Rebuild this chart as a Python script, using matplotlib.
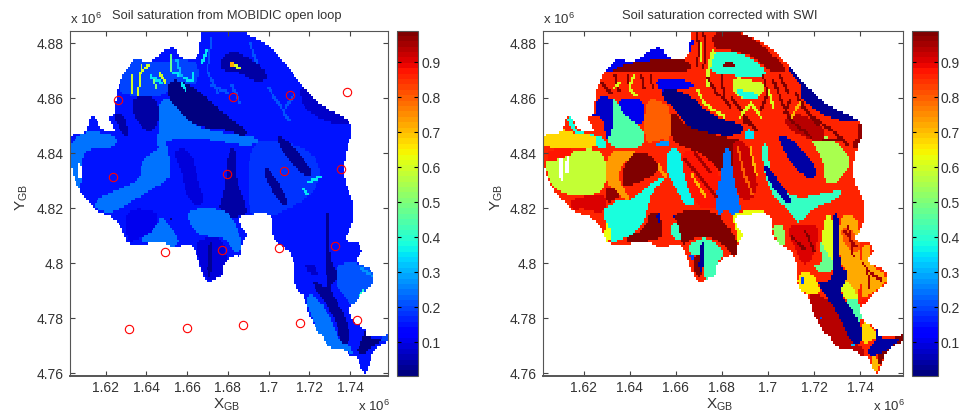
import numpy as np
import matplotlib
matplotlib.use('Agg')
import matplotlib.pyplot as plt
from matplotlib.colors import Normalize
from matplotlib.cm import ScalarMappable
from matplotlib.path import Path

plt.rcParams['font.family'] = ['Liberation Sans', 'DejaVu Sans']
plt.rcParams['mathtext.default'] = 'regular'
TXT = '#333333'

# all map coordinates, in km (1620 = 1.62 x 10^6)
basin = [(1602.1,4847.9),(1611,4847),(1612,4853.1),(1615.6,4853.1),(1617.2,4849.1),(1623,4847.3),(1624.6,4849.1),
         (1620.8,4853.1),(1624.6,4853.9),(1624.9,4859.4),(1625.7,4863),(1629,4870.1),(1635.2,4874.9),(1641,4872.7),
         (1649.2,4877.6),(1654.1,4878.8),(1656.6,4874.2),(1664.8,4873.9),(1666.4,4880),(1667.2,4885.5),(1685.2,4885.5),
         (1690.2,4883),(1699.2,4880),(1707.4,4873.3),(1715.6,4865.5),(1722.1,4860),(1729.5,4855.8),(1738.5,4852.7),
         (1741,4850.3),(1741,4847.3),(1738.5,4842.4),(1736.9,4835.2),(1737.7,4829.1),(1742.1,4820.6),(1741,4813.9),
         (1736.9,4807.9),(1745,4807.7),(1745.9,4803.7),(1741.8,4800.6),(1750,4798.2),(1752,4795.8),(1751.3,4792.2),
         (1745.9,4789.1),(1743.4,4786.1),(1739.3,4783.7),(1741,4778.8),(1747.5,4776.4),(1748.4,4772.8),(1756.6,4773.4),
         (1759,4774.2),(1759,4771.5),(1751.6,4769.1),(1749.2,4761.8),(1746.4,4759.6),(1743.4,4766.7),(1740.2,4765.7),
         (1736.9,4769.1),(1729.5,4769.1),(1727,4772.8),(1723,4776.4),(1719.7,4781.8),(1718,4787.3),(1712.3,4792.2),
         (1713.1,4800),(1709,4805.5),(1703.3,4807.3),(1701.6,4812.8),(1702.5,4816.4),(1697.5,4818.8),(1691,4817.6),
         (1685.2,4817),(1686.9,4813.3),(1689.7,4810.9),(1686.9,4806.7),(1686,4802.4),(1683.6,4803),(1677.9,4800.6),
         (1677.5,4795.8),(1673.8,4794.5),(1669.7,4792.7),(1666.4,4798.2),(1664.8,4803),(1661.5,4807.3),(1653.3,4805.5),
         (1646.7,4808.2),(1638.5,4806.7),(1630.3,4807),(1628.7,4811.6),(1624.6,4816.4),(1615.6,4819.1),(1614.4,4820),
         (1606.6,4826.7),(1602,4837.6)]

left_holes = [[(1606,4837),(1608.7,4835),(1608.7,4830.3),(1606.6,4831)]]
right_holes = [[(1609,4838),(1611,4838),(1611,4830),(1609,4831)],[(1612,4837),(1614,4840),(1614,4833),(1612,4832)]]

stations_x = [1626.2,1682.3,1710.5,1738.4,1623.8,1679.8,1707.5,1735.6,1649.2,1676.9,1704.9,1732.8,1631.3,1659.7,1687.2,1715.4,1743.3]
stations_y = [4859.4,4860.4,4861.1,4862.2,4831.4,4832.5,4833.6,4834.3,4804.2,4804.9,4805.6,4806.4,4776.2,4776.5,4777.4,4778.1,4779.2]

# open loop: saturation value of each soil zone
left_base = 0.155
left_values = [0.25,0.25,0.19,0.18,0.05,0.05,0.015,0.05,0.07,0.05,0.09,0.03,0.03,
               0.25,0.02,0.25,0.09,0.03,0.25,0.11,0.03,0.07,0.25,0.21,0.02,0.19,0.72]
left_zones = [
    [(1602,4848),(1625.5,4847.5),(1625.5,4842),(1612,4842),(1608,4838),(1608,4826),(1602,4826)],
    [(1646,4860),(1653.3,4859.4),(1663,4850.3),(1673,4848),(1690,4846.7),(1696,4844.8),(1691,4842.4),(1673,4844.8),(1660,4846),(1650,4844.8),(1645,4841.2),(1646,4850)],
    [(1625.7,4863),(1632,4860.6),(1650,4860.6),(1651.6,4867.3),(1665,4864),(1666,4873),(1656.6,4874.2),(1641,4872.7),(1635,4875),(1629,4870)],
    [(1690,4842),(1700,4846),(1725,4840),(1725,4826),(1700,4816),(1690,4816)],
    [(1632.8,4860.6),(1646,4860.6),(1646,4849),(1638.5,4848),(1633.6,4854.5)],
    [(1623,4854),(1629.5,4854),(1631,4846),(1628.7,4846.7)],
    [(1651.6,4867.3),(1660,4865.5),(1666.4,4862.4),(1674.6,4856.4),(1682.8,4851.9),(1690,4848),(1687.7,4846),(1681,4848.5),(1669.7,4849),(1662.3,4851),(1655.7,4855.8),(1650,4860.6)],
    [(1675.4,4872.7),(1681,4877.6),(1687.7,4875.8),(1697.5,4871),(1700,4867.3),(1694.3,4865.5),(1684.4,4870.3),(1677.9,4869.7)],
    [(1715.6,4865.5),(1722,4860),(1729.5,4855.8),(1738.5,4852.7),(1741,4850.3),(1730,4851),(1722,4854),(1716,4858)],
    [(1681.6,4842.2),(1684,4840.6),(1684,4830.3),(1688.5,4821.8),(1690,4817),(1674.6,4817),(1678.7,4827.9),(1679.5,4837.6)],
    [(1652.5,4841.2),(1661.5,4841.8),(1664.8,4831.5),(1668.4,4823),(1664.8,4820),(1659.8,4824.2),(1656.6,4835.2)],
    [(1697.5,4835.2),(1700.8,4834),(1709.8,4823),(1709,4820.6),(1705.7,4821.8),(1699.2,4829.7)],
    [(1704,4846.7),(1709,4844.8),(1716.4,4838.8),(1722,4833.3),(1718.9,4830.9),(1713,4835.2),(1705.7,4841.2)],
    [(1650,4844.8),(1645,4841.2),(1637.7,4837.6),(1637,4830.3),(1625.4,4826.7),(1614.8,4823),(1614.4,4820),(1622,4818.2),(1628.7,4820.6),(1645,4828),(1652.5,4831.5),(1651,4838.8)],
    [(1651.3,4818.2),(1653.3,4814.5),(1651.6,4815.7)],
    [(1646.7,4818.2),(1651.6,4813.9),(1656.6,4807.9),(1653.3,4805.5),(1646.7,4808.2),(1638.5,4806.7),(1636.9,4809.2),(1645,4812.8)],
    [(1664.8,4809),(1677.9,4809.6),(1679.5,4800.6),(1677.5,4795.8),(1669.7,4792.7),(1664.8,4803)],
    [(1670.5,4807.6),(1673,4807.6),(1671.6,4794.8),(1669.7,4794.8)],
    [(1659.8,4820),(1681,4820),(1687.7,4806.7),(1684.4,4802.4),(1679.5,4809.2),(1666.4,4810.1),(1661.5,4813.9)],
    [(1629,4820),(1646,4819.5),(1645,4812.8),(1636.9,4809),(1630.3,4807)],
    [(1727.9,4818.8),(1730,4818.8),(1729.5,4805.5),(1732,4798.2),(1734.5,4797),(1732.8,4793.3),(1729.5,4790.9),(1738.5,4780),(1740.2,4770.3),(1735.2,4770.3),(1733.6,4778.8),(1725.4,4788.5),(1721.3,4792.7),(1723.8,4793.3),(1729.5,4789.7),(1727.9,4799.4)],
    [(1718,4800),(1723,4799.4),(1724.6,4795.2),(1719.7,4796.4)],
    [(1718,4787.3),(1721.3,4789.1),(1729.5,4782.4),(1735.2,4770.3),(1740.2,4770.3),(1741.8,4766),(1737,4769),(1729.5,4769),(1723,4776.4)],
    [(1733,4792.2),(1733,4799.5),(1741.8,4800.6),(1750.8,4798.2),(1752,4792.2),(1741.8,4783.7),(1737.7,4787.3)],
    [(1747.5,4776.4),(1748.4,4772.8),(1756.6,4772.8),(1750,4769.1),(1746,4766.7),(1742.6,4767.9),(1746,4771.5)],
    [(1756.6,4773.4),(1759,4774.2),(1759,4771.5),(1753.3,4771)],
    [(1680.3,4872.7),(1682.8,4874.2),(1683.8,4871.9),(1681.1,4871.8)],
]
left_stream_values = [0.6,0.6,0.6,0.5,0.6,0.48,0.35,0.35,0.35,0.35,0.6,0.35,0.35,0.28,0.4,0.22,
                      0.22,0.22,0.21,0.21,0.3,0.35,0.22]
left_streams = [
    [(1632.8,4868.5),(1633.3,4861.8)],
    [(1637.7,4871.5),(1636.6,4866.7),(1635.7,4861.2)],
    [(1637.7,4869.7),(1641,4872.1)],
    [(1643.4,4867.3),(1645,4863.6)],
    [(1646.7,4869),(1649.5,4865.8)],
    [(1651.6,4875.8),(1651.6,4870.3)],
    [(1657.4,4865.5),(1659.5,4862.8)],
    [(1663,4869.7),(1662.3,4866.7)],
    [(1669.7,4877.6),(1667.2,4872.7)],
    [(1653.3,4869.7),(1660.6,4866.7)],
    [(1683.6,4872.1),(1685.7,4870.7)],
    [(1716.4,4827.3),(1719.7,4824.8)],
    [(1719.7,4829.7),(1725.4,4831.5)],
    [(1745.9,4798),(1750.8,4795.8)],
    [(1746.7,4789.7),(1745,4788.5)],
    [(1691,4880),(1694.3,4872.7)],
    [(1672,4882),(1670,4870),(1675,4862)],
    [(1682,4865),(1686,4858)],
    [(1700,4864),(1705,4858),(1710,4852)],
    [(1712,4861),(1708,4856)],
    [(1655,4874),(1657,4868)],
    [(1642,4868),(1647,4866)],
    [(1672,4865),(1680,4862)],
]

# corrected with SWI
right_base = 0.86
right_values = [0.1,0.98,0.1,0.97,0.4,0.98,0.6,0.6,0.38,0.03,0.98,0.01,0.35,0.8,0.28,
                0.45,0.08,0.1,0.38,0.68,0.88,0.58,0.73,0.98,0.9,0.96,0.38,0.37,0.88,0.98,0.25,0.92,0.42,
                0.04,0.05,0.55,0.93,0.97,0.98,0.86,0.05,0.05,0.42,0.86,0.63,0.43,0.98,0.03,0.2,0.63,
                0.52,0.9,0.62,0.47,0.72,0.82,0.62,0.45,0.72,0.88,0.66,0.2,0.93,0.2,0.68,0.7,0.98,0.05,0.3]
right_zones = [
    [(1629,4869),(1625,4872),(1635,4880),(1655,4882),(1668,4885),(1666.5,4874),(1652,4873.3)],
    [(1629.7,4869.3),(1637.6,4872.5),(1652,4874.2),(1666.5,4874.2),(1666.5,4869.3),(1652,4869.3)],
    [(1650.6,4867.3),(1666.5,4866.7),(1667.9,4863.6),(1657.8,4863.6),(1653.5,4862.4)],
    [(1675.8,4883.6),(1683.8,4885.5),(1695.3,4881),(1702.5,4875.5),(1709,4869.7),(1701.1,4869.3),(1693.9,4875.2),(1683.8,4877.6),(1676.6,4877.6)],
    [(1675,4876.4),(1680.9,4877.6),(1692.4,4875.2),(1700.4,4869.3),(1695.3,4867.6),(1683.8,4868.5),(1674.4,4869.7)],
    [(1680.2,4872.7),(1683.8,4874.2),(1686.7,4870.9),(1680.9,4871.5)],
    [(1674.4,4870.3),(1678,4877.6),(1675.1,4877.6),(1672.2,4864.2),(1675.1,4864)],
    [(1684.5,4868.1),(1685.2,4860.6),(1695.3,4859.4),(1699.7,4865.5),(1692.4,4866.7)],
    [(1686,4863.6),(1695.3,4861.8),(1695.3,4859.4),(1687.4,4860.6)],
    [(1709,4872),(1712,4876),(1722,4866),(1733,4860),(1745,4854),(1736.4,4851.2),(1727,4852.7),(1720.6,4855.8),(1714,4860),(1715.5,4864.2),(1709.8,4869)],
    [(1657.8,4857),(1663.6,4850.3),(1680.9,4845.8),(1691,4844.8),(1685.2,4832.7),(1679.5,4832.7),(1673.7,4838.8),(1663.6,4842.4),(1657.8,4844.2)],
    [(1653.5,4863),(1658.5,4863.6),(1666.5,4861.2),(1672.2,4855.8),(1680.9,4852.1),(1690.3,4850.3),(1688.8,4847.3),(1680.9,4846.3),(1672.2,4847.9),(1665,4849.7),(1660.7,4855.2),(1654.9,4859.4)],
    [(1690.3,4849),(1693.9,4847.9),(1693.2,4844.8),(1689.6,4845.5)],
    [(1646.3,4859.4),(1653.5,4859.4),(1657.8,4855.8),(1657.8,4844.2),(1653.5,4845.5),(1646.3,4842.4)],
    [(1650.6,4843.6),(1657,4844.8),(1657.8,4843),(1653.5,4842.4)],
    [(1631.8,4859.4),(1634,4859.4),(1637.6,4853.9),(1646.3,4849),(1646.3,4841.8),(1630,4841.8),(1631.8,4849.7)],
    [(1625.3,4860.6),(1632.6,4860.4),(1633.3,4854.5),(1631.5,4845.5),(1629.7,4845.5),(1629,4853.3),(1621.7,4853.3),(1626,4854.5)],
    [(1634,4860),(1646.3,4860),(1646.3,4849),(1637.6,4853.9)],
    [(1612.4,4853.3),(1615.2,4853.3),(1616.7,4847.9),(1630,4846),(1630,4841.5),(1625.8,4841.5),(1625.8,4846),(1616,4847)],
    [(1602,4849),(1610.2,4849.1),(1614.5,4847.5),(1625.8,4846.7),(1625.8,4841.5),(1602,4841.5)],
    [(1604.4,4841.5),(1617.4,4841.5),(1613,4838.8),(1608,4836.4),(1604.4,4837.6)],
    [(1603,4837.6),(1608.7,4837.6),(1613,4838.8),(1617.4,4841.5),(1630,4841.2),(1630,4825.5),(1615.2,4824),(1605.9,4828)],
    [(1630,4841.2),(1641.2,4841.2),(1652,4837.6),(1656.4,4831.5),(1655,4830.9),(1649.9,4837.6),(1640.5,4839),(1635.4,4834),(1635.4,4830.3),(1640.5,4823),(1638.6,4822.4),(1634,4826.7),(1630,4828)],
    [(1643.4,4840.6),(1650.6,4838.8),(1653.8,4834),(1644.8,4829.7),(1637.6,4827.3),(1636.2,4831.5),(1639,4837.6)],
    [(1614.5,4823.6),(1629.7,4825.5),(1629.7,4820),(1627.5,4818),(1621,4820),(1614.5,4819.4)],
    [(1629.7,4828.5),(1635.4,4826),(1635.4,4824.2),(1629.7,4821.6)],
    [(1629.7,4820),(1635.4,4823.6),(1639.8,4822.4),(1642,4824.2),(1653.5,4831.5),(1655.6,4830.9),(1649.1,4825.5),(1647.7,4818.8),(1644.1,4812),(1636.9,4808.5),(1631.1,4807.3),(1629.7,4813.9),(1629,4820)],
    [(1657.1,4841.8),(1662.1,4841.8),(1663.6,4831.5),(1668.6,4821.8),(1665,4820),(1659.3,4827.9),(1655,4835.2)],
    [(1662,4842),(1673.7,4838.8),(1679.5,4832.7),(1680,4820),(1668.6,4820),(1663.6,4831.5)],
    [(1660,4819.4),(1679.5,4819.4),(1688.1,4805.5),(1685.2,4802),(1679.5,4807.9),(1671.5,4810.1),(1665,4808.2),(1663.3,4805.5),(1660,4814)],
    [(1680.9,4841.8),(1683.8,4841.8),(1684.5,4832.7),(1688.1,4821.8),(1688,4818),(1680,4816.5),(1676.6,4820.6),(1679.5,4831.5)],
    [(1684.5,4844.8),(1691,4844.8),(1696.8,4825.5),(1688.1,4821.8),(1684.5,4832.7)],
    [(1696.8,4843.6),(1700.4,4843.6),(1700.4,4835.2),(1705.4,4827.9),(1712.6,4823),(1732.8,4827.3),(1730,4823),(1718.4,4820),(1713.4,4813.9),(1710.5,4817.7),(1699.7,4826.7)],
    [(1704.7,4846.7),(1707.6,4846.7),(1715.5,4841.2),(1722,4832.7),(1718.4,4830.3),(1712.6,4833.9),(1705.4,4842.4)],
    [(1697.5,4835.2),(1699.7,4835.8),(1710.5,4823),(1709,4821.2),(1704.7,4824.2)],
    [(1717,4850.3),(1724.2,4847.3),(1735,4840),(1735.7,4835.2),(1728.5,4827.9),(1724.2,4830.3),(1724.2,4837.6),(1718.4,4844.8)],
    [(1709.8,4855.8),(1725,4850),(1724,4843),(1706,4850)],
    [(1738.6,4850.9),(1741.5,4850.3),(1741.5,4844.8),(1738.6,4841.2),(1736.4,4842.4),(1739.3,4847.3)],
    [(1637.6,4809),(1647,4812.8),(1648.9,4819.4),(1653.5,4817.6),(1655,4809),(1647,4807.9),(1640.5,4806.7)],
    [(1653.5,4817.6),(1659.3,4814.5),(1659.3,4806),(1655,4805.7),(1655,4809)],
    [(1651.6,4818.2),(1653.5,4818.2),(1653.8,4815),(1652.5,4815.2)],
    [(1658.5,4817.6),(1660,4817.6),(1659.5,4815.8)],
    [(1658.5,4815.2),(1661.4,4814),(1662.4,4808),(1659.3,4808.5),(1657,4811.6)],
    [(1679.5,4819.4),(1683.8,4819.4),(1686.7,4810.9),(1679.5,4815)],
    [(1683.8,4818.2),(1698.2,4820),(1698.2,4816.4),(1689.6,4817),(1689.8,4812.1),(1687.4,4805.5),(1685.9,4813.3)],
    [(1665,4806),(1671.5,4809.7),(1678,4807.3),(1681.6,4803),(1678,4800.6),(1678,4793.9),(1672.2,4793.9),(1671.5,4801.7),(1666.5,4803.5)],
    [(1667.2,4802.3),(1670.8,4803),(1672.2,4799.9),(1670.8,4794.5),(1667.9,4796.3)],
    [(1670.8,4807.9),(1673,4807.9),(1671.5,4796.4),(1669.6,4797)],
    [(1665.7,4803),(1667.6,4803),(1667,4800.6)],
    [(1629.7,4815.2),(1631.5,4814),(1631.5,4807.3),(1629,4807.3)],
    [(1701.8,4814.5),(1706.9,4813.9),(1707.6,4805.5),(1703.3,4808)],
    [(1706.9,4813.9),(1722,4814.5),(1722,4809),(1718.4,4800.6),(1714.8,4799.4),(1711.9,4805.5)],
    [(1723.5,4814),(1727,4819.4),(1728.5,4809.2),(1728.5,4798.2),(1724.2,4797.1)],
    [(1721.3,4810.4),(1728.5,4800),(1728.5,4797.7),(1724.2,4795.8),(1718.4,4799.4),(1724.2,4799.2)],
    [(1730.7,4818.2),(1740,4817.6),(1740,4786.7),(1735,4789.7),(1731.4,4790.9),(1735,4797),(1730.7,4800.6)],
    [(1731.4,4814),(1740,4810.4),(1740,4803),(1732.8,4806.7)],
    [(1731.4,4792),(1735,4794),(1740,4786.7),(1732.8,4786.7)],
    [(1732.8,4786.7),(1740,4786.7),(1740.3,4777.6),(1736.4,4782.4)],
    [(1740,4806.7),(1745.1,4807.3),(1743.7,4800),(1751.6,4795.8),(1750.9,4792.2),(1744.4,4788.5),(1740,4786.7)],
    [(1740,4786.7),(1744,4786.7),(1741.5,4784.5),(1740,4784.5)],
    [(1712.6,4796.3),(1718.4,4796.9),(1722,4792.6),(1722.7,4789),(1717.7,4789),(1714,4789.3)],
    [(1713.8,4795.8),(1715.5,4795.2),(1715.1,4791.2)],
    [(1717.7,4789),(1722,4789),(1730,4783.7),(1736.4,4770.9),(1742.2,4769.1),(1741.5,4765.7),(1730,4769.1),(1722,4776.4),(1717.7,4786)],
    [(1722,4780),(1724.2,4780.4),(1723.5,4779)],
    [(1740.3,4780),(1747.3,4775),(1747.3,4773.3),(1743,4770.9),(1740.8,4770.9)],
    [(1744.4,4766.7),(1747.6,4766),(1748.7,4762.5),(1745.8,4759.6)],
    [(1754.5,4773.3),(1759,4774.2),(1759,4771.5),(1750.9,4767.3),(1748.7,4762.5),(1746.6,4766)],
    [(1746.6,4776.4),(1748,4776.4),(1749,4772.2),(1756.7,4773),(1756.7,4771.5),(1748.7,4767),(1744.4,4766),(1743,4769),(1747.3,4771.5)],
    [(1735,4771),(1737.7,4771),(1737.7,4769)],
]
# main river channel sits over the zones on the right
river_value = 0.03
river = [(1727.8,4818.8),(1730.7,4818.8),(1730.7,4799.4),(1735,4797),(1734.3,4794.2),(1730.7,4789),(1740,4779.4),(1740.8,4770.9),(1736.4,4770.3),(1731.4,4780),(1727,4786),(1722,4792),(1721.3,4793.5),(1725.6,4793),(1728.5,4796.3)]
right_stream_values = [0.98]*9 + [0.62]*3 + [0.98,0.62,0.98,0.62,0.98,0.98,0.62,0.98,0.98,0.62,0.98,0.98,0.98,0.7,0.95,0.95,0.95,0.95,0.98,0.98,0.95,0.95,0.7,0.8,0.7]
right_streams = [
    [(1633.3,4868.5),(1635.4,4863)],
    [(1639,4868.5),(1640.5,4863)],
    [(1644.8,4868.5),(1646.3,4863.6)],
    [(1673.7,4867.9),(1678,4861.8),(1683.8,4857)],
    [(1679.5,4868.5),(1680.9,4860.6)],
    [(1702.5,4866.7),(1705.4,4859.4),(1709.8,4852.1),(1718.4,4846)],
    [(1709.8,4859.4),(1706.9,4854.5)],
    [(1724.2,4844.8),(1732.8,4844.8)],
    [(1689.6,4852),(1695.3,4848.5)],
    [(1669.4,4863),(1672.2,4858.2),(1680.9,4853.3)],
    [(1699.7,4864.2),(1702.5,4857)],
    [(1692.4,4858.2),(1696.8,4853.3)],
    [(1628,4866),(1632,4862)],
    [(1642,4868),(1640,4864),(1643,4861)],
    [(1649,4868),(1650,4864)],
    [(1636,4866),(1633,4864)],
    [(1669,4884),(1670,4878),(1669,4872)],
    [(1672,4884),(1673,4878),(1672,4871)],
    [(1671,4880),(1671,4874)],
    [(1684,4860),(1688,4856),(1692,4851)],
    [(1698,4868),(1700,4862),(1697,4856)],
    [(1692,4858),(1688,4853)],
    [(1705,4868),(1709,4862)],
    [(1712,4862),(1716,4856),(1722,4850)],
    [(1720,4853),(1728,4848),(1735,4843)],
    [(1714,4858),(1710,4853)],
    [(1741,4800),(1745,4796),(1749,4794)],
    [(1743,4798),(1744,4791)],
    [(1733,4812),(1738,4806)],
    [(1735,4813),(1737,4803)],
    [(1710,4810),(1716,4805)],
    [(1716,4812),(1720,4804)],
    [(1664,4838),(1672,4830),(1678,4824)],
    [(1668,4840),(1675,4833)],
    [(1667,4832),(1673,4824)],
    [(1687,4842),(1690,4832),(1693,4825)],
    [(1692,4842),(1695,4832)],
]

x_ticks = [1.62,1.64,1.66,1.68,1.7,1.72,1.74]
y_ticks = [4.76,4.78,4.8,4.82,4.84,4.86,4.88]
cbar_ticks = [0.1,0.2,0.3,0.4,0.5,0.6,0.7,0.8,0.9]

W, H = 959, 416
CELL = 0.9
jet64 = plt.get_cmap('jet', 64)
norm = Normalize(0.005, 0.99)


def px_axes(fig, x0, x1, y0, y1):
    return fig.add_axes([x0 / W, 1 - y1 / H, (x1 - x0) / W, (y1 - y0) / H])


def chaikin(pts, n):
    # round off the hand-read zone corners
    p = np.array(pts, dtype=float)
    for _ in range(n):
        q = np.roll(p, -1, axis=0)
        p = np.column_stack([0.75 * p + 0.25 * q, 0.25 * p + 0.75 * q]).reshape(-1, 2)
    return p


def build_grid(base, zones, values, streams, stream_values, holes):
    xe = np.arange(1602, 1759.5, CELL)
    ye = np.arange(4759, 4885.5, CELL)
    xc, yc = np.meshgrid(xe[:-1] + CELL / 2, ye[:-1] + CELL / 2)
    pts = np.column_stack([xc.ravel(), yc.ravel()])
    grid = np.full(xc.shape, base)
    for zone, val in zip(zones, values):
        n = 1 if len(zone) <= 4 else 2
        grid[Path(chaikin(zone, n)).contains_points(pts).reshape(xc.shape)] = val
    for line, val in zip(streams, stream_values):
        line = np.array(line)
        for a, b in zip(line[:-1], line[1:]):
            for t in np.linspace(0, 1, 30):
                px, py = a + (b - a) * t
                grid[int((py - ye[0]) / CELL), int((px - xe[0]) / CELL)] = val
    outside = ~Path(chaikin(basin, 1)).contains_points(pts).reshape(xc.shape)
    grid[outside] = np.nan
    for h in holes:
        grid[Path(chaikin(h, 1)).contains_points(pts).reshape(xc.shape)] = np.nan
    return xe / 1000.0, ye / 1000.0, grid


def draw_map(ax, base, zones, values, streams, stream_values, holes):
    xe, ye, grid = build_grid(base, zones, values, streams, stream_values, holes)
    ax.pcolormesh(xe, ye, grid, cmap=jet64, norm=norm, antialiased=False, linewidth=0)
    ax.set_xlim(1.6022, 1.7584)
    ax.set_ylim(4.7591, 4.8847)
    ax.set_xticks(x_ticks)
    ax.set_yticks(y_ticks)
    ax.set_xticklabels(['%g' % t for t in x_ticks])
    ax.set_yticklabels(['%g' % t for t in y_ticks])
    ax.tick_params(direction='in', top=True, right=True, length=3.5, width=0.8, color='#444444', labelsize=10, labelcolor=TXT, pad=4)
    for s in ax.spines.values():
        s.set_color('#555555')
    ax.spines['bottom'].set_linewidth(1.4)


def draw_cbar(fig, x0, x1):
    cax = px_axes(fig, x0, x1, 30.5, 375.7)
    cb = fig.colorbar(ScalarMappable(norm=norm, cmap=jet64), cax=cax, ticks=cbar_ticks)
    cb.ax.set_yticklabels(['%g' % t for t in cbar_ticks])
    cb.ax.tick_params(direction='in', left=True, right=True, length=3, width=0.8, color='black', labelsize=10, labelcolor=TXT, pad=2)
    cb.outline.set_edgecolor('#555555')


fig = plt.figure(figsize=(W / 100, H / 100), dpi=100)

ax1 = px_axes(fig, 69.5, 387.5, 30.5, 375.7)
draw_map(ax1, left_base, left_zones, left_values, left_streams, left_stream_values, left_holes)
ax1.plot(np.array(stations_x) / 1000.0, np.array(stations_y) / 1000.0, 'o', ms=6, mfc='none', mec='red', mew=0.8, ls='none')
draw_cbar(fig, 396.5, 418.5)

ax2 = px_axes(fig, 542.5, 902.7, 30.5, 375.7)
draw_map(ax2, right_base, right_zones + [river], right_values + [river_value], right_streams, right_stream_values, right_holes)
draw_cbar(fig, 911.6, 938)

fig.text(227 / W, 1 - 16 / H, 'Soil saturation from MOBIDIC open loop', ha='center', va='center', fontsize=9.25, color=TXT)
fig.text(720 / W, 1 - 16 / H, 'Soil saturation corrected with SWI', ha='center', va='center', fontsize=9.4, color=TXT)
for x in (69.5, 543):
    fig.text(x / W, 1 - 24 / H, 'x 10$^6$', ha='left', va='baseline', fontsize=9.5, color=TXT)
for x in (358, 873):
    fig.text(x / W, 1 - 411 / H, 'x 10$^6$', ha='left', va='baseline', fontsize=9.5, color=TXT)
for x in (227, 720):
    fig.text(x / W, 1 - 405 / H, 'X$_{GB}$', ha='center', va='center', fontsize=11, color=TXT)
for x in (22, 497):
    fig.text(x / W, 1 - 197 / H, 'Y$_{GB}$', ha='center', va='center', rotation=90, fontsize=11, color=TXT)

fig.savefig('out.png', dpi=100)
